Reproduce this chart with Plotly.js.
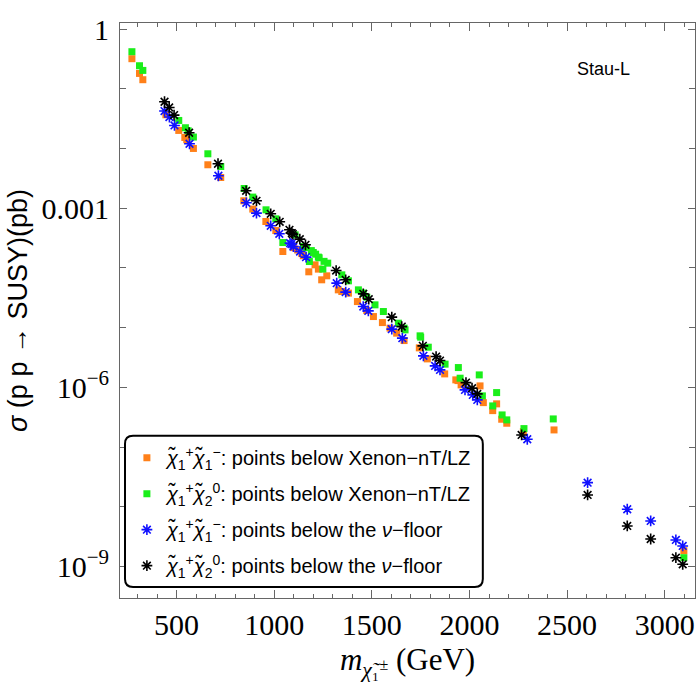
<!DOCTYPE html>
<html>
<head>
<meta charset="utf-8">
<script src="https://cdn.plot.ly/plotly-3.0.1.min.js"></script>
<style>
  html, body { margin: 0; padding: 0; background: #fff; }
  #chart { width: 700px; height: 700px; }
</style>
</head>
<body>
<div id="chart"></div>
<script>
// chargino mass (GeV) and log10 of cross section (pb)
const massCC = [271, 310, 327, 445, 511, 542, 552, 586, 660, 726,
  844, 890, 957, 1008, 1044, 1100, 1120, 1141, 1149, 1177,
  1209, 1226, 1243, 1269, 1328, 1346, 1380, 1426, 1474, 1508,
  1554, 1593, 1627, 1665, 1743, 1784, 1873, 1930, 1941, 1957,
  2054, 2071, 2119, 2139, 2165, 2191, 2276, 2433, 3098];
const logSigCC = [-0.497, -0.744, -0.849, -1.436, -1.698, -1.816, -1.854, -2.0, -2.273, -2.486,
  -2.876, -3.015, -3.223, -3.374, -3.725, -3.66, -3.70, -3.76, -3.797, -4.065,
  -3.948, -4.020, -4.199, -4.132, -4.367, -4.395, -4.422, -4.563, -4.714, -4.814,
  -4.915, -5.008, -5.092, -5.216, -5.338, -5.523, -5.774, -5.874, -5.886, -5.958,
  -5.975, -6.255, -6.389, -6.276, -6.533, -6.600, -6.740, -6.712, -8.734];

const massCN = [271, 310, 327, 511, 545, 559, 586, 660, 726, 846,
  890, 958, 1008, 1044, 1107, 1149, 1165, 1180, 1190, 1200,
  1212, 1226, 1230, 1249, 1255, 1274, 1346, 1380, 1431,
  1456, 1474, 1516, 1559, 1636, 1665, 1670, 1747, 1750, 1789,
  1875, 1943, 1952, 2050, 2066, 2119, 2139, 2167, 2191, 2279,
  2429, 3098];
const logSigCN = [-0.380, -0.615, -0.693, -1.531, -1.653, -1.704, -1.809, -2.089, -2.302, -2.670,
  -2.814, -3.027, -3.178, -3.575, -3.446, -3.642, -3.66, -3.893, -3.71, -3.742,
  -3.77, -3.819, -3.83, -4.020, -3.89, -3.920, -4.116, -4.216, -4.367,
  -4.42, -4.489, -4.618, -4.730, -4.925, -5.008, -5.037, -5.137, -5.159, -5.327,
  -5.611, -5.668, -5.846, -5.791, -6.142, -6.310, -6.087, -6.461, -6.544, -6.690,
  -6.528, -8.851];

const massFloorCC = [438, 463, 489, 566, 714, 857, 909, 982, 1026, 1081,
  1088, 1098, 1132, 1163, 1320, 1366, 1456, 1482, 1602, 1656,
  1764, 1824, 1849, 1977, 2017, 2040, 2296, 2605, 2808, 2928,
  3057, 3092];
const logSigFloorCC = [-1.374, -1.474, -1.615, -1.921, -2.457, -2.910, -3.082, -3.295, -3.429, -3.585,
  -3.60, -3.642, -3.725, -3.819, -4.255, -4.405, -4.647, -4.719, -5.025, -5.176,
  -5.472, -5.640, -5.707, -6.042, -6.126, -6.209, -6.868, -7.595, -8.040, -8.236,
  -8.554, -8.655];

const massFloorCN = [438, 462, 487, 564, 712, 856, 909, 982, 1028, 1078,
  1090, 1095, 1131, 1160, 1317, 1366, 1456, 1484, 1602, 1653,
  1761, 1829, 1849, 1982, 2013, 2040, 2267, 2605, 2808, 2928,
  3057, 3092];
const logSigFloorCN = [-1.218, -1.313, -1.441, -1.737, -2.256, -2.709, -2.876, -3.094, -3.228, -3.362,
  -3.417, -3.434, -3.518, -3.613, -4.044, -4.199, -4.434, -4.523, -4.824, -4.982,
  -5.305, -5.484, -5.551, -5.920, -6.013, -6.109, -6.796, -7.801, -8.320, -8.538,
  -8.851, -8.962];

const seriesNames = [
  '<i>χ̃</i><sub>1</sub><sup>+</sup><i>χ̃</i><sub>1</sub><sup>−</sup>: points below Xenon−nT/LZ',
  '<i>χ̃</i><sub>1</sub><sup>+</sup><i>χ̃</i><sub>2</sub><sup>0</sup>: points below Xenon−nT/LZ',
  '<i>χ̃</i><sub>1</sub><sup>+</sup><i>χ̃</i><sub>1</sub><sup>−</sup>: points below the <i>ν</i>−floor',
  '<i>χ̃</i><sub>1</sub><sup>+</sup><i>χ̃</i><sub>2</sub><sup>0</sup>: points below the <i>ν</i>−floor'
];

const yTickVals = [1, 1e-3, 1e-6, 1e-9];
const yTickText = ['1', '0.001', '10<sup>−6</sup>', '10<sup>−9</sup>'];
const yMinorVals = [1e-1, 1e-2, 1e-4, 1e-5, 1e-7, 1e-8];

const toPb = arr => arr.map(v => Math.pow(10, v));

function squares(x, logs, name, color, group) {
  return {
    x: x, y: toPb(logs), name: name, type: 'scatter', mode: 'markers',
    legendgroup: group,
    marker: { symbol: 'square', size: 7, color: color }
  };
}
function stars(x, logs, name, color, group) {
  return {
    x: x, y: toPb(logs), name: name, type: 'scatter', mode: 'markers',
    legendgroup: group,
    marker: { symbol: 'asterisk-open', size: 9, color: color,
              line: { color: color, width: 1.6 } }
  };
}

const traces = [
  squares(massCC, logSigCC, seriesNames[0], '#ff8019', 'a'),
  squares(massCN, logSigCN, seriesNames[1], '#1aee1a', 'b'),
  stars(massFloorCC, logSigFloorCC, seriesNames[2], '#1010ff', 'c'),
  stars(massFloorCN, logSigFloorCN, seriesNames[3], '#000000', 'd')
];

// rounded legend frame (paper coords)
const bx0 = 0.0087, bx1 = 0.631, by0 = 0.019, by1 = 0.282, br = 0.014;
const boxPath = `M${bx0 + br},${by0} L${bx1 - br},${by0} Q${bx1},${by0} ${bx1},${by0 + br} ` +
  `L${bx1},${by1 - br} Q${bx1},${by1} ${bx1 - br},${by1} L${bx0 + br},${by1} ` +
  `Q${bx0},${by1} ${bx0},${by1 - br} L${bx0},${by0 + br} Q${bx0},${by0} ${bx0 + br},${by0} Z`;

const layout = {
  width: 700, height: 700,
  margin: { l: 120, r: 5, t: 23, b: 102 },
  paper_bgcolor: '#fff', plot_bgcolor: '#fff',
  showlegend: true,
  xaxis: {
    range: [210, 3155],
    tickvals: [500, 1000, 1500, 2000, 2500, 3000],
    ticks: 'inside', ticklen: 8, tickcolor: '#666', tickwidth: 1,
    minor: { dtick: 100, tick0: 0, ticks: 'inside', ticklen: 4, tickcolor: '#666' },
    showline: true, linecolor: '#666', linewidth: 1, mirror: 'ticks',
    showgrid: false, zeroline: false,
    tickfont: { family: 'Liberation Serif', size: 30, color: '#000' },
    title: { text: '<i>m</i><sub><i>χ̃</i>₁</sub><span style="font-size:16px">±</span> (GeV)',
             font: { family: 'Liberation Serif', size: 31, color: '#000' }, standoff: 8 }
  },
  yaxis: {
    type: 'log',
    range: [-9.526, 0.1005],
    tickvals: yTickVals, ticktext: yTickText,
    ticks: 'inside', ticklen: 7, tickcolor: '#666', tickwidth: 1,
    minor: { tickvals: yMinorVals, ticks: 'inside', ticklen: 6, tickcolor: '#666' },
    showline: true, linecolor: '#666', linewidth: 1, mirror: 'ticks',
    showgrid: false, zeroline: false,
    tickfont: { family: 'Liberation Serif', size: 30, color: '#000' },
    ticklabelstandoff: 4,
    title: { text: '<i>σ</i> (p p → SUSY)(pb)',
             font: { family: 'Liberation Sans', size: 27, color: '#000' }, standoff: 6 }
  },
  legend: {
    x: 0.012, y: 0.278, xanchor: 'left', yanchor: 'top',
    bgcolor: 'rgba(0,0,0,0)', borderwidth: 0,
    tracegroupgap: 7, itemwidth: 30,
    font: { family: 'Liberation Sans', size: 20, color: '#000' }
  },
  shapes: [{
    type: 'path', xref: 'paper', yref: 'paper', path: boxPath,
    fillcolor: '#fff', line: { color: '#000', width: 2 }, layer: 'above'
  }],
  annotations: [{
    xref: 'paper', yref: 'paper', x: 0.89, y: 0.941,
    text: 'Stau-L', showarrow: false,
    font: { family: 'Liberation Sans', size: 18, color: '#000' }
  }]
};

Plotly.newPlot('chart', traces, layout, { displayModeBar: false, staticPlot: true });
</script>
</body>
</html>
